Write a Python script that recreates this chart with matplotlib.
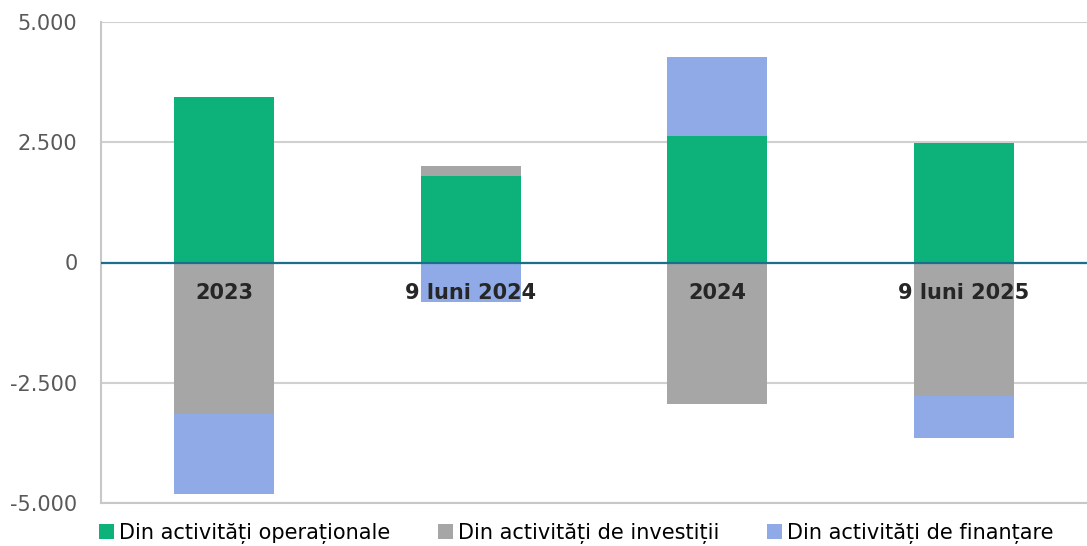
import matplotlib
matplotlib.use("Agg")
import matplotlib.pyplot as plt
import numpy as np
from matplotlib.patches import Patch

categories = ["2023", "9 luni 2024", "2024", "9 luni 2025"]
operational = [3440, 1800, 2630, 2490]
investment = [-3140, 215, -2950, -2770]
financing = [-1670, -815, 1635, -875]
series_names = ["Din activități operaționale", "Din activități de investiții", "Din activități de finanțare"]
colors = ["#0db27a", "#a6a6a6", "#8faae6"]
yticks = [-5000, -2500, 0, 2500, 5000]
ytick_labels = ["-5.000", "-2.500", "0", "2.500", "5.000"]

plt.rcParams['font.family'] = ['DejaVu Sans']
fig = plt.figure(figsize=(10.87, 5.46), dpi=100)
ax = fig.add_axes([101/1087, 1 - 503/546, 986/1087, 481/546])

x = np.arange(len(categories))
width = 0.405
pos_bottom = np.zeros(len(categories))
neg_bottom = np.zeros(len(categories))
for vals, name, c in zip([operational, investment, financing], series_names, colors):
    vals = np.array(vals, dtype=float)
    bottoms = np.where(vals >= 0, pos_bottom, neg_bottom)
    ax.bar(x, vals, width, bottom=bottoms, color=c, label=name, zorder=3)
    pos_bottom += np.where(vals >= 0, vals, 0)
    neg_bottom += np.where(vals < 0, vals, 0)

ax.set_xlim(-0.5, len(categories) - 0.5)
ax.set_ylim(-5000, 5000)
ax.set_yticks(yticks)
ax.set_yticklabels(ytick_labels, fontsize=15, color="#595959")
ax.tick_params(axis='y', length=0, pad=17)
ax.set_xticks([])
ax.yaxis.grid(True, color="#d0d0d0", linewidth=1.5, zorder=0)
ax.axhline(0, color="#1b6f8a", linewidth=1.6, zorder=4)
for s in ["top", "right"]:
    ax.spines[s].set_visible(False)
for s in ["left", "bottom"]:
    ax.spines[s].set_color("#c8c8c8")
    ax.spines[s].set_linewidth(1.5)

for xi, cat in zip(x, categories):
    ax.text(xi, -420, cat, ha="center", va="top", fontsize=15, fontweight="bold",
            color="#262626", zorder=5)

handles = [Patch(facecolor=c, label=n) for c, n in zip(colors, series_names)]
fig.legend(handles=handles, loc="lower left", bbox_to_anchor=(80/1087, -0.03), ncol=3,
           frameon=False, fontsize=15, handlelength=0.75, handleheight=0.75,
           handletextpad=0.2, columnspacing=2.3, labelcolor="#000000")

fig.savefig("out.png", dpi=100)
